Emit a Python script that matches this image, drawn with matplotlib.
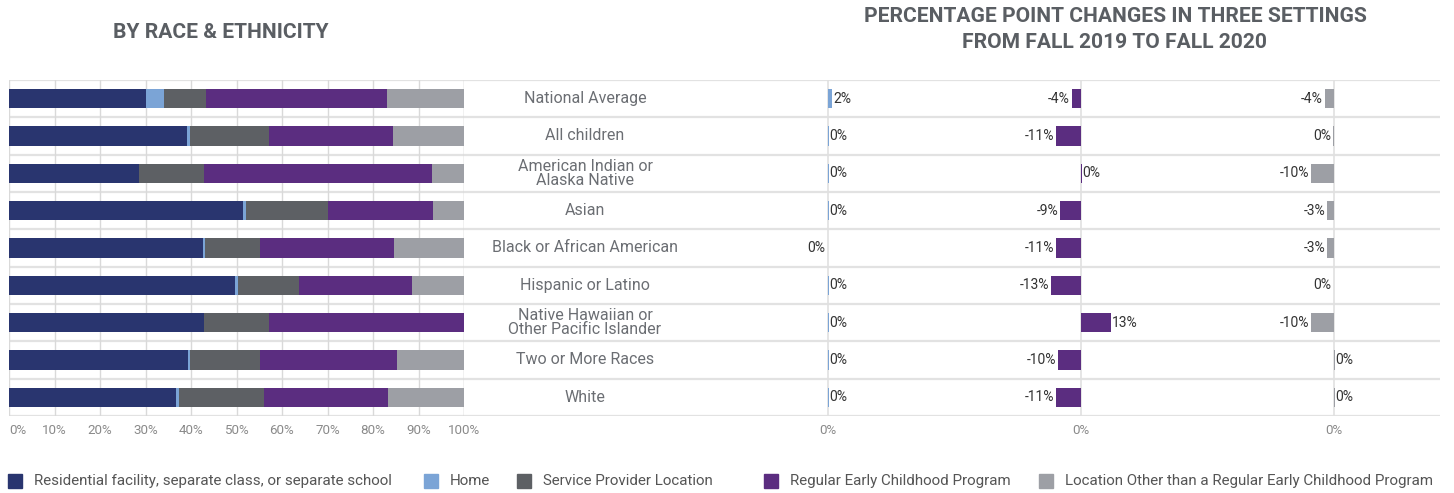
import matplotlib.pyplot as plt
import numpy as np

plt.rcParams['font.family'] = ['Roboto', 'DejaVu Sans']

groups = ["National Average", "All children", "American Indian or\nAlaska Native", "Asian",
          "Black or African American", "Hispanic or Latino",
          "Native Hawaiian or\nOther Pacific Islander", "Two or More Races", "White"]

settings = ["Residential facility, separate class, or separate school", "Home",
            "Service Provider Location", "Regular Early Childhood Program",
            "Location Other than a Regular Early Childhood Program"]
colors = ["#29356f", "#7ba4d6", "#5d6064", "#5b2d80", "#9d9fa5"]

# share of children in each setting (%), fall 2020
residential = [30.1, 39.1, 28.6, 51.4, 42.6, 49.7, 42.9, 39.3, 36.7]
home = [4.0, 0.7, 0.0, 0.7, 0.5, 0.6, 0.0, 0.5, 0.7]
service = [9.2, 17.3, 14.3, 18.0, 12.1, 13.4, 14.2, 15.4, 18.6]
regular = [39.8, 27.3, 50.1, 23.1, 29.4, 24.9, 42.9, 30.1, 27.3]
other = [16.9, 15.6, 7.0, 6.8, 15.4, 11.4, 0.0, 14.7, 16.7]

# percentage point change fall 2019 -> fall 2020
chg_home = [1.9, 0.2, 0.2, 0.2, -0.2, 0.2, 0.2, 0.2, 0.2]
chg_regular = [-4, -11, 0.2, -9, -11, -13, 13, -10, -11]
chg_other = [-4, -0.3, -10, -3, -3, -0.2, -10, 0.2, 0.2]

W, H = 1454, 493
fig = plt.figure(figsize=(W / 100, H / 100), dpi=100)


def rect(x0, y0, x1, y1):
    return [x0 / W, 1 - y1 / H, (x1 - x0) / W, (y1 - y0) / H]


n = len(groups)
rows = np.arange(n)
top, bottom = 80, 416

# background with row separators
bg = fig.add_axes(rect(9, top, 1440, bottom))
bg.set_xlim(0, 1)
bg.set_ylim(n - 0.5, -0.5)
for b in np.arange(n + 1) - 0.5:
    bg.axhline(b, color="#e2e2e2", lw=1.6, zorder=0)
bg.axis("off")

# left: stacked 100% bars
ax = fig.add_axes(rect(9, top, 464, bottom))
ax.patch.set_alpha(0)
ax.set_xlim(0, 100)
ax.set_ylim(n - 0.5, -0.5)
left = np.zeros(n)
for vals, c in zip([residential, home, service, regular, other], colors):
    ax.barh(rows, vals, left=left, height=0.52, color=c, zorder=3)
    left += np.array(vals)
ax.set_xticks(np.arange(0, 101, 10))
ax.set_xticklabels([f"{t}%" for t in range(0, 101, 10)], fontsize=9.6, color="#8a8a8a")
ax.get_xticklabels()[0].set_ha("left")
ax.tick_params(length=0, pad=6)
ax.set_yticks([])
ax.grid(axis="x", color="#d9d9d9", lw=1)
for s in ax.spines.values():
    s.set_visible(False)
ax.axvline(100, color="#d9d9d9", lw=1)

# row labels in the middle column
for i, g in enumerate(groups):
    y = top + (bottom - top) * (i + 0.5) / n
    fig.text(585 / W, 1 - y / H, g, ha="center", va="center", fontsize=11.5,
             color="#6b6e73", linespacing=0.92)

# right: three change panels
for k, (vals, c) in enumerate(zip([chg_home, chg_regular, chg_other], [colors[1], colors[3], colors[4]])):
    x0 = 705 + 253 * k
    pa = fig.add_axes(rect(x0, top, x0 + 253, bottom))
    pa.patch.set_alpha(0)
    pa.set_xlim(-53.5, 56.5)
    pa.set_ylim(n - 0.5, -0.5)
    pa.axvline(0, color="#e0e0e0", lw=1.2, zorder=1)
    pa.barh(rows, vals, height=0.52, color=c, zorder=3)
    for i, v in enumerate(vals):
        lab = f"{int(round(v))}%"
        if v >= 0:
            pa.text(v + 0.5, i, lab, ha="left", va="center", fontsize=10, color="#333333")
        else:
            pa.text(v - 0.8, i, lab, ha="right", va="center", fontsize=10, color="#333333")
    pa.set_xticks([0])
    pa.set_xticklabels(["0%"], fontsize=9.6, color="#8a8a8a")
    pa.tick_params(length=0, pad=6)
    pa.set_yticks([])
    for s in pa.spines.values():
        s.set_visible(False)

# titles
tc = "#5a5e63"
fig.text(221 / W, 1 - 33 / H, "BY RACE & ETHNICITY", ha="center", va="center",
         fontsize=15.1, fontweight="bold", color=tc)
fig.text(1115 / W, 1 - 17 / H, "PERCENTAGE POINT CHANGES IN THREE SETTINGS", ha="center",
         va="center", fontsize=15.1, fontweight="bold", color=tc)
fig.text(1115 / W, 1 - 42 / H, "FROM FALL 2019 TO FALL 2020", ha="center",
         va="center", fontsize=15.1, fontweight="bold", color=tc)

# legend
sq_x = [8, 424, 517, 764, 1039]
for sx, lab, c in zip(sq_x, settings, colors):
    fig.patches.append(plt.Rectangle((sx / W, 1 - 488 / H), 14 / W, 14 / H,
                                     transform=fig.transFigure, color=c))
    fig.text((sx + 26) / W, 1 - 481 / H, lab, ha="left", va="center",
             fontsize=10.9, color="#555555")

fig.savefig("out.png", dpi=100)
